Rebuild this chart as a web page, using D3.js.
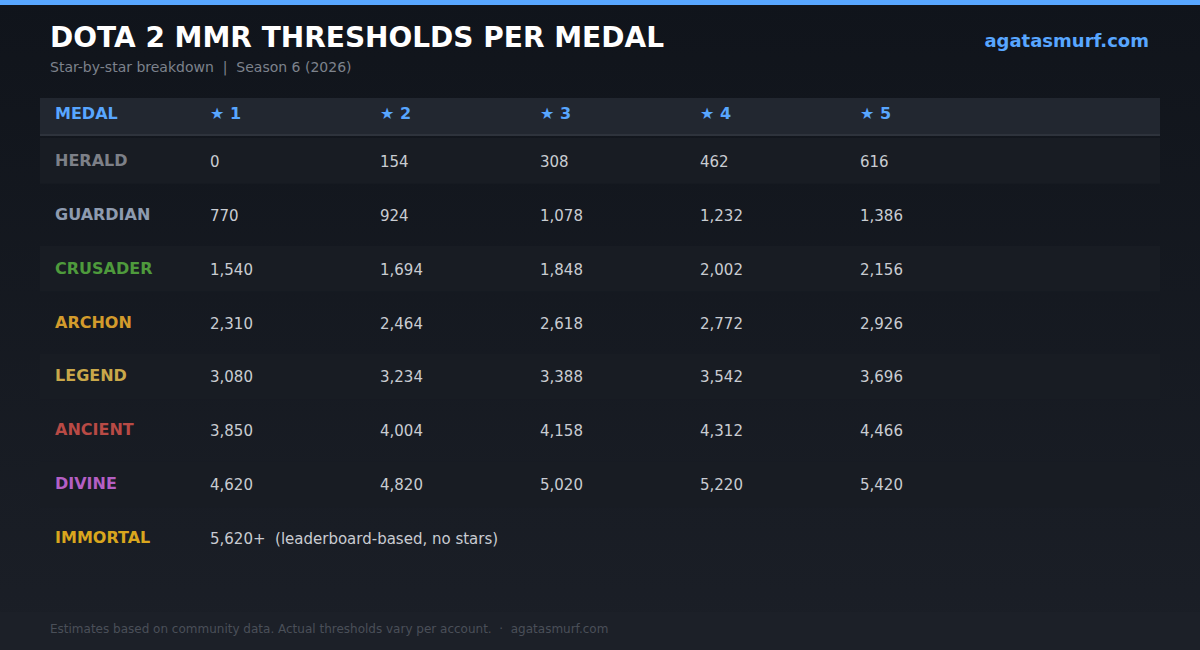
<!DOCTYPE html>
<html><head><meta charset="utf-8">
<script src="https://cdn.jsdelivr.net/npm/d3@7"></script>
<style>body{margin:0;background:#12161d}svg{display:block;font-family:"DejaVu Sans",sans-serif}</style>
</head><body><svg id="c" width="1200" height="650"></svg>
<script>
const medals = ["HERALD","GUARDIAN","CRUSADER","ARCHON","LEGEND","ANCIENT","DIVINE","IMMORTAL"];
const medalColors = ["#7d8088","#8e9bb0","#4e9a3c","#d39b2c","#c9a84a","#b84a45","#b45fc4","#d9a61e"];
const stars = ["★ 1","★ 2","★ 3","★ 4","★ 5"];
const thresholds = [
  [0,154,308,462,616],
  [770,924,1078,1232,1386],
  [1540,1694,1848,2002,2156],
  [2310,2464,2618,2772,2926],
  [3080,3234,3388,3542,3696],
  [3850,4004,4158,4312,4466],
  [4620,4820,5020,5220,5420],
  [5620]
];
const immortalNote = "(leaderboard-based, no stars)";

const svg = d3.select("#c");
const W = 1200, H = 650;
const defs = svg.append("defs");
const grad = defs.append("linearGradient").attr("id","bg").attr("x1",0).attr("y1",0).attr("x2",0).attr("y2",1);
grad.append("stop").attr("offset","0%").attr("stop-color","#10141b");
grad.append("stop").attr("offset","100%").attr("stop-color","#1b1f27");
svg.append("rect").attr("width",W).attr("height",H).attr("fill","url(#bg)");
svg.append("rect").attr("y",612).attr("width",W).attr("height",38).attr("fill","#1c2028");
svg.append("rect").attr("width",W).attr("height",5).attr("fill","#58a6ff");

svg.append("text").attr("x",50).attr("y",47).attr("fill","#fff").attr("font-size",28).attr("font-weight","bold").text("DOTA 2 MMR THRESHOLDS PER MEDAL");
svg.append("text").attr("x",50).attr("y",72).attr("fill","#7d828c").attr("font-size",14).attr("xml:space","preserve")
  .style("white-space","pre").text("Star-by-star breakdown  |  Season 6 (2026)");
svg.append("text").attr("x",1149).attr("y",47).attr("text-anchor","end").attr("fill","#58a6ff").attr("font-size",18).attr("font-weight","bold").text("agatasmurf.com");

const cols = ["medal", ...stars];
const x = d3.scaleOrdinal().domain(cols).range([55,210,380,540,700,860]);
const y = d3.scaleBand().domain(medals).range([138,561]).paddingInner(0.15).paddingOuter(0);

// header
svg.append("rect").attr("x",40).attr("y",98).attr("width",1120).attr("height",36).attr("fill","#222730");
svg.append("rect").attr("x",40).attr("y",134).attr("width",1120).attr("height",2).attr("fill","#2e333c");
svg.selectAll("text.h").data(cols).join("text").attr("class","h")
  .attr("x",d=>x(d)).attr("y",119).attr("fill","#58a6ff").attr("font-size",16).attr("font-weight","bold")
  .text(d=>d==="medal"?"MEDAL":d);

const rows = svg.selectAll("g.row").data(medals).join("g").attr("class","row")
  .attr("transform",d=>`translate(0,${y(d)})`);
rows.filter((d,i)=>i%2===0).append("rect").attr("x",40).attr("width",1120).attr("height",y.bandwidth()).attr("fill","#181c23");
rows.append("text").attr("x",x("medal")).attr("y",y.bandwidth()/2+5).attr("fill",(d,i)=>medalColors[i])
  .attr("font-size",16).attr("font-weight","bold").text(d=>d);
rows.each(function(d,i){
  const g = d3.select(this);
  const vals = thresholds[i];
  if (vals.length === 1) {
    g.append("text").attr("x",x(stars[0])).attr("y",y.bandwidth()/2+6).attr("fill","#c9ccd2").attr("font-size",15)
      .style("white-space","pre").text(d3.format(",")(vals[0])+"+  "+immortalNote);
  } else {
    g.selectAll("text.v").data(vals).join("text").attr("class","v")
      .attr("x",(v,j)=>x(stars[j])).attr("y",y.bandwidth()/2+6).attr("fill","#c9ccd2").attr("font-size",15)
      .text(v=>d3.format(",")(v));
  }
});

svg.append("text").attr("x",50).attr("y",633).attr("fill","#4a4f58").attr("font-size",12).style("white-space","pre")
  .text("Estimates based on community data. Actual thresholds vary per account.  ·  agatasmurf.com");
</script></body></html>
